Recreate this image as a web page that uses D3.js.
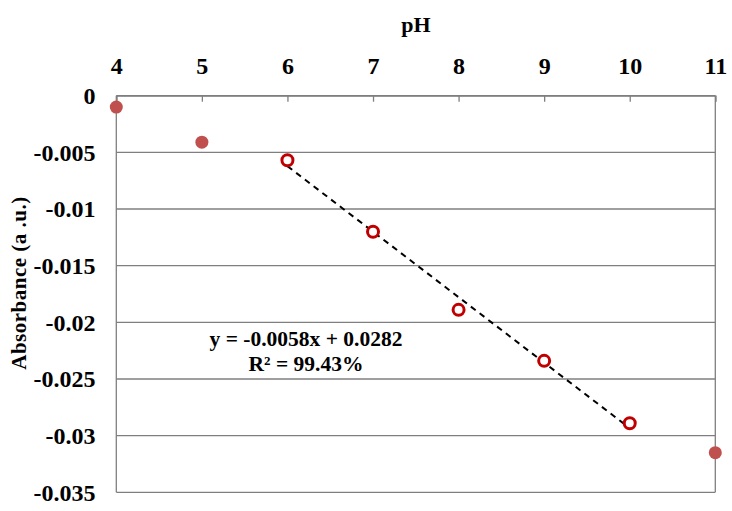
<!DOCTYPE html>
<html>
<head>
<meta charset="utf-8">
<script src="https://cdn.jsdelivr.net/npm/d3@7/dist/d3.min.js"></script>
<style>
  html, body { margin: 0; padding: 0; background: #fff; }
  svg text { font-family: "Liberation Serif", "Times New Roman", serif; font-weight: bold; fill: #000; }
</style>
</head>
<body>
<svg id="chart" width="732" height="511"></svg>
<script>
// Data
const phFilled = [4, 5, 11];
const absFilled = [-0.001, -0.0041, -0.0315];
const phOpen = [6, 7, 8, 9, 10];
const absOpen = [-0.0057, -0.0120, -0.0189, -0.0234, -0.0289];
const xTicks = [4, 5, 6, 7, 8, 9, 10, 11];
const yTicks = [0, -0.005, -0.01, -0.015, -0.02, -0.025, -0.03, -0.035];
const yTickLabels = ["0", "-0.005", "-0.01", "-0.015", "-0.02", "-0.025", "-0.03", "-0.035"];
const eqLines = ["y = -0.0058x + 0.0282", "R\u00B2 = 99.43%"];
const xTitle = "pH";
const yTitle = "Absorbance (a .u.)";

const svg = d3.select("#chart");
const L = 116.3, R = 715.3, T = 95.7, B = 492.3;
const x = d3.scaleLinear().domain([4, 11]).range([L, R]);
const y = d3.scaleLinear().domain([0, -0.035]).range([T, B]);

const gridColor = "#7f7f7f";

// gridlines
svg.append("g").selectAll("line").data(yTicks).join("line")
  .attr("x1", L).attr("x2", R)
  .attr("y1", d => y(d)).attr("y2", d => y(d))
  .attr("stroke", gridColor).attr("stroke-width", 1.3);

// plot frame (left, right)
svg.append("line").attr("x1", L).attr("x2", L).attr("y1", T).attr("y2", B).attr("stroke", gridColor).attr("stroke-width", 1.3);
svg.append("line").attr("x1", R).attr("x2", R).attr("y1", T).attr("y2", B).attr("stroke", gridColor).attr("stroke-width", 1.3);

// top x axis
const xAxis = d3.axisTop(x).tickValues(xTicks).tickSize(-6).tickPadding(0).tickFormat(d3.format("d"));
const gx = svg.append("g").attr("transform", `translate(0,${T})`).call(xAxis);
gx.attr("font-size", null).attr("font-family", null);
gx.select(".domain").attr("stroke", gridColor).attr("stroke-width", 1.3);
gx.selectAll(".tick line").attr("stroke", gridColor).attr("stroke-width", 1.3);
gx.selectAll(".tick text")
  .attr("y", 74 - T).attr("dy", null)
  .style("font-size", "24px").style("font-family", "Liberation Serif").style("font-weight", "bold").attr("fill", "#000");

// left y axis labels
const yAxis = d3.axisLeft(y).tickValues(yTicks).tickSize(0).tickPadding(0)
  .tickFormat((d, i) => yTickLabels[i]);
const gy = svg.append("g").attr("transform", `translate(${L},0)`).call(yAxis);
gy.attr("font-size", null).attr("font-family", null);
gy.select(".domain").remove();
gy.selectAll(".tick text")
  .attr("x", 95.5 - L).attr("dy", "0.33em")
  .style("font-size", "24px").style("font-family", "Liberation Serif").style("font-weight", "bold").attr("fill", "#000");

// axis titles
svg.append("text").attr("x", 416).attr("y", 32).attr("text-anchor", "middle")
  .style("font-size", "22px").text(xTitle);
svg.append("text").attr("transform", "translate(26,283) rotate(-90)").attr("text-anchor", "middle")
  .style("font-size", "21px").style("letter-spacing", "0.5px").text(yTitle);

// trendline (least squares on open points)
const mx = d3.mean(phOpen), my = d3.mean(absOpen);
const slope = d3.sum(phOpen.map((v, i) => (v - mx) * (absOpen[i] - my))) / d3.sum(phOpen.map(v => (v - mx) ** 2));
const icpt = my - slope * mx;
const x0 = d3.min(phOpen), x1 = d3.max(phOpen);
svg.append("line")
  .attr("x1", x(x0)).attr("y1", y(slope * x0 + icpt))
  .attr("x2", x(x1)).attr("y2", y(slope * x1 + icpt))
  .attr("stroke", "#000").attr("stroke-width", 2).attr("stroke-dasharray", "6,5");

// filled markers
svg.append("g").selectAll("circle").data(phFilled).join("circle")
  .attr("cx", d => x(d)).attr("cy", (d, i) => y(absFilled[i])).attr("r", 6.5)
  .attr("fill", "#C0504D");

// open markers
svg.append("g").selectAll("circle").data(phOpen).join("circle")
  .attr("cx", d => x(d)).attr("cy", (d, i) => y(absOpen[i])).attr("r", 5.5)
  .attr("fill", "#fff").attr("stroke", "#C00000").attr("stroke-width", 3);

// equation label
svg.append("g").selectAll("text").data(eqLines).join("text")
  .attr("x", 306).attr("y", (d, i) => 346 + i * 25).attr("text-anchor", "middle")
  .style("font-size", "21.5px").text(d => d);
</script>
</body>
</html>
